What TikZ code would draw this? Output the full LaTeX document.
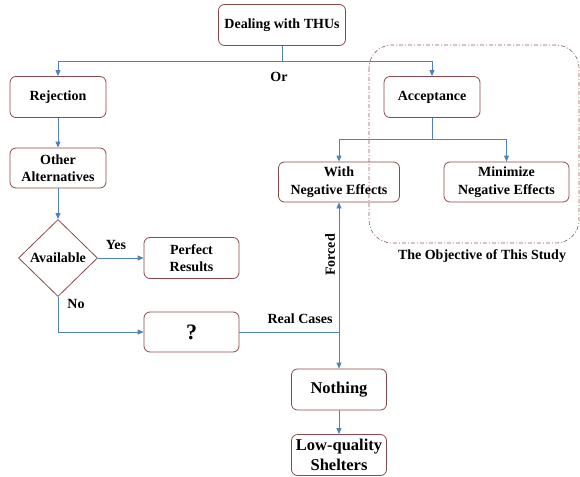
\documentclass[tikz,border=0pt]{standalone}
\usepackage{fontspec}
\setmainfont{Liberation Serif}
\usetikzlibrary{arrows.meta,shapes.geometric}
\definecolor{boxred}{RGB}{140,72,72}
\definecolor{lineblue}{RGB}{79,129,189}
\definecolor{studyred}{RGB}{140,90,85}

\begin{document}
\begin{tikzpicture}[x=1pt,y=-1pt,
	box/.style={draw=boxred, line width=0.8pt, rounded corners=6pt, align=center,
		font=\fontsize{14}{17.5}\selectfont\bfseries, inner sep=2pt},
	bigbox/.style={box, font=\fontsize{16.5}{20}\selectfont\bfseries},
	decision/.style={draw=boxred, line width=0.8pt, diamond, inner sep=0pt,
		minimum width=79pt, minimum height=77pt, font=\fontsize{14}{17.5}\selectfont\bfseries},
	link/.style={draw=lineblue, line width=0.8pt},
	arr/.style={link, -{Triangle[length=6pt,width=5pt]}},
	lbl/.style={font=\fontsize{14}{17.5}\selectfont\bfseries, inner sep=0pt}]
	%%%%% START %%%%%
	\useasboundingbox (0,0) rectangle (580,476);
	
	% the area of this study
	\draw[studyred, line width=0.6pt, rounded corners=23pt,
		dash pattern=on 4pt off 2pt on 1pt off 2pt] (369,45) rectangle (579,243);
	\node[lbl] (objective) at (482,256) {The Objective of This Study};
	
	% boxes
	\node[box, minimum width=127pt, minimum height=41pt] (deal) at (282,25) {Dealing with THUs};
	\node[box, minimum width=96pt, minimum height=41pt] (reject) at (58,97) {Rejection};
	\node[box, minimum width=96pt, minimum height=41pt] (accept) at (432,97) {Acceptance};
	\node[box, minimum width=96pt, minimum height=40pt] (other) at (58,168) {Other\\Alternatives};
	\node[decision] (avail) at (58,258) {Available};
	\node[box, minimum width=95pt, minimum height=41pt] (perfect) at (191.5,258) {Perfect\\Results};
	\node[box, minimum width=95pt, minimum height=40pt, font=\fontsize{22}{24}\selectfont\bfseries] (unknown) at (191.5,332) {?};
	\node[box, minimum width=121pt, minimum height=40pt] (witheff) at (339,182) {With\\Negative Effects};
	\node[box, minimum width=125pt, minimum height=40pt] (minimize) at (506.5,182) {Minimize\\Negative Effects};
	\node[bigbox, minimum width=95pt, minimum height=41pt] (nothing) at (339,389.5) {Nothing};
	\node[bigbox, minimum width=95pt, minimum height=41pt] (shelter) at (339,455) {Low-quality\\Shelters};
	
	% connectors
	\draw[arr] (deal.south) -- ++(0,16) -| (reject.north);
	\draw[arr] (deal.south) -- ++(0,16) -| (accept.north);
	\node[lbl] (or) at (279,77) {Or};
	
	\draw[arr] (reject) -- (other);
	\draw[arr] (other) -- (avail);
	\draw[arr] (avail) -- (perfect);
	\node[lbl] (yes) at (116,245) {Yes};
	\draw[arr] (avail.south) |- (unknown.west);
	\node[lbl] (no) at (76,304) {No};
	
	\draw[arr] (accept.south) -- ++(0,21) -| (witheff.north);
	\draw[arr] (accept.south) -- ++(0,21) -| (minimize.north);
	
	\coordinate (join) at (339,332);
	\draw[link] (unknown) -- (join);
	\draw[arr] (join) -- (witheff);
	\draw[arr] (join) -- (nothing);
	\node[lbl] (real) at (300,319) {Real Cases};
	\node[lbl, rotate=90] (forced) at (330,255) {Forced};
	
	\draw[arr] (nothing) -- (shelter);
	%%%%% END %%%%%
\end{tikzpicture}
\end{document}
